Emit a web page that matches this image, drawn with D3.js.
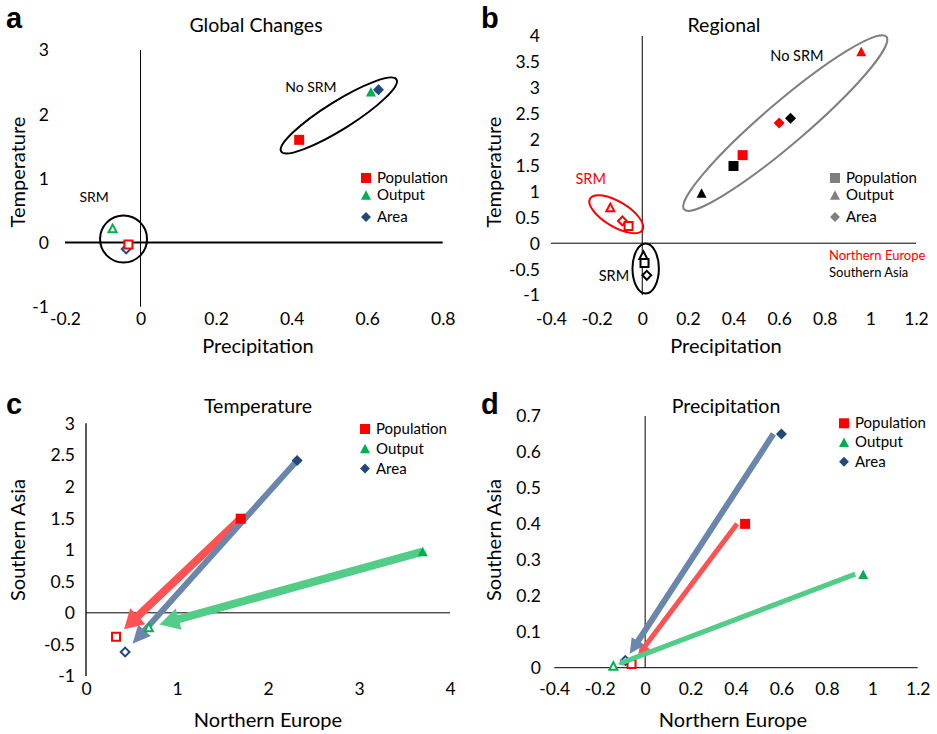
<!DOCTYPE html>
<html><head><meta charset="utf-8">
<script src="https://cdn.jsdelivr.net/npm/d3@7"></script>
<style>
body{margin:0;background:#fff}
svg{display:block}
text{font-family:Lato,"Open Sans",sans-serif;fill:#000}
</style>
</head><body>
<svg id="chart" width="937" height="734"></svg>
<script>
// ---------- DATA ----------
const indicators = ["Population", "Output", "Area"];
const shapes = ["square", "triangle", "diamond"];
const indicatorColors = ["#FF0000", "#00B050", "#1F497D"];
const arrowColors = ["#FF5252", "#52CD88", "#6A86AD"];

// Panel a: global changes (precipitation, temperature)
const globalPrecNoSrm = [0.42, 0.61, 0.63];
const globalTempNoSrm = [1.60, 2.35, 2.38];
const globalPrecSrm = [-0.032, -0.074, -0.038];
const globalTempSrm = [-0.03, 0.22, -0.10];

// Regional changes: Northern Europe (NE) and Southern Asia (SA)
const neTempNoSrm = [1.70, 3.70, 2.32];
const saTempNoSrm = [1.49, 0.97, 2.41];
const nePrecNoSrm = [0.44, 0.96, 0.60];
const saPrecNoSrm = [0.40, 0.26, 0.65];
const neTempSrm = [0.33, 0.69, 0.43];
const saTempSrm = [-0.38, -0.23, -0.62];
const nePrecSrm = [-0.06, -0.14, -0.087];
const saPrecSrm = [0.01, 0.005, 0.02];

const regionNames = ["Northern Europe", "Southern Asia"];
const regionColors = ["#FF0000", "#000000"];

// Tick values
const xTicksA = [-0.2, 0, 0.2, 0.4, 0.6, 0.8];
const yTicksA = [-1, 0, 1, 2, 3];
const xTicksB = [-0.4, -0.2, 0, 0.2, 0.4, 0.6, 0.8, 1, 1.2];
const yTicksB = [-1, -0.5, 0, 0.5, 1, 1.5, 2, 2.5, 3, 3.5, 4];
const xTicksC = [0, 1, 2, 3, 4];
const yTicksC = [-1, -0.5, 0, 0.5, 1, 1.5, 2, 2.5, 3];
const xTicksD = [-0.4, -0.2, 0, 0.2, 0.4, 0.6, 0.8, 1, 1.2];
const yTicksD = [0, 0.1, 0.2, 0.3, 0.4, 0.5, 0.6, 0.7];

// Cluster annotations (centre in data units)
const clustersA = [
  {label: "No SRM", cx: 0.525, cy: 1.98, lx: 0.451, ly: 2.42, color: "#000"},
  {label: "SRM", cx: -0.045, cy: 0.055, lx: -0.123, ly: 0.71, color: "#000"}
];
const clustersB = [
  {label: "No SRM", cx: 0.627, cy: 2.32, lx: 0.678, ly: 3.61, color: "#7F7F7F", tcolor: "#000"},
  {label: "SRM", cx: -0.114, cy: 0.56, lx: -0.226, ly: 1.24, color: "#FF0000", tcolor: "#FF0000"},
  {label: "SRM", cx: 0.015, cy: -0.49, lx: -0.124, ly: -0.64, color: "#000", tcolor: "#000"}
];

// ---------- HELPERS ----------
const svg = d3.select("#chart");
const FONT = 'Lato,"Open Sans",sans-serif';

function shapePath(type, s) {
  if (type === "square") return `M${-s/2},${-s/2}h${s}v${s}h${-s}Z`;
  if (type === "triangle") { const h = s * 0.95; return `M0,${-h/2}L${s/2},${h/2}L${-s/2},${h/2}Z`; }
  const r = s / 2 * 1.1; return `M0,${-r}L${r},0L0,${r}L${-r},0Z`;
}
function drawMarker(g, x, y, type, color, open, size) {
  g.append("path").attr("d", shapePath(type, open ? size - 2 : size))
    .attr("transform", `translate(${x},${y})`)
    .attr("fill", open ? "#fff" : color)
    .attr("stroke", open ? color : "none")
    .attr("stroke-width", open ? 2 : 0);
}
function arrowPath(x1, y1, x2, y2, w, hw, hl) {
  const L = Math.hypot(x2 - x1, y2 - y1), ux = (x2 - x1) / L, uy = (y2 - y1) / L;
  const px = -uy, py = ux, bx = x2 - ux * hl, by = y2 - uy * hl;
  const p = [[x1 + px*w/2, y1 + py*w/2], [bx + px*w/2, by + py*w/2], [bx + px*hw/2, by + py*hw/2], [x2, y2],
             [bx - px*hw/2, by - py*hw/2], [bx - px*w/2, by - py*w/2], [x1 - px*w/2, y1 - py*w/2]];
  return "M" + p.map(q => q.join(",")).join("L") + "Z";
}

function makePanel(cfg) {
  const g = svg.append("g");
  const x = d3.scaleLinear().domain(cfg.xDomain).range(cfg.xRange);
  const y = d3.scaleLinear().domain(cfg.yDomain).range(cfg.yRange);
  const ax = g.append("g").attr("transform", `translate(0,${cfg.yRange[0]})`)
    .call(d3.axisBottom(x).tickValues(cfg.xTicks).tickSize(0).tickFormat(d => String(d)));
  ax.select(".domain").remove();
  ax.selectAll("text").attr("y", cfg.xLabelOffset).attr("dy", null)
    .style("font-family", FONT).style("font-size", "17.5px").attr("fill", "#000");
  const ay = g.append("g").attr("transform", `translate(${cfg.xRange[0]},0)`)
    .call(d3.axisLeft(y).tickValues(cfg.yTicks).tickSize(0).tickPadding(cfg.yLabelPad).tickFormat(d => String(d)));
  ay.select(".domain").remove();
  ay.selectAll("text").attr("dy", "0.34em")
    .style("font-family", FONT).style("font-size", "17.5px").attr("fill", "#000");
  g.append("line").attr("x1", x(0)).attr("x2", x(0)).attr("y1", cfg.yRange[1]).attr("y2", cfg.yRange[0])
    .attr("stroke", "#000").attr("stroke-width", cfg.vWidth || 1);
  g.append("line").attr("x1", cfg.xRange[0]).attr("x2", cfg.xRange[1]).attr("y1", y(0)).attr("y2", y(0))
    .attr("stroke", "#000").attr("stroke-width", cfg.hWidth || 1);
  g.append("text").attr("x", cfg.title[1]).attr("y", cfg.title[2]).attr("text-anchor", "middle")
    .style("font-size", "19.5px").text(cfg.title[0]);
  g.append("text").attr("x", cfg.xTitle[1]).attr("y", cfg.xTitle[2]).attr("text-anchor", "middle")
    .style("font-size", "20px").text(cfg.xTitle[0]);
  g.append("text").attr("transform", `translate(${cfg.yTitle[1]},${cfg.yTitle[2]}) rotate(-90)`)
    .attr("text-anchor", "middle").attr("dy", "0.35em").style("font-size", "20px").text(cfg.yTitle[0]);
  g.append("text").attr("x", cfg.letter[1]).attr("y", cfg.letter[2])
    .style("font-family", "'Liberation Sans',Arial,sans-serif").style("font-weight", "bold")
    .style("font-size", "29px").text(cfg.letter[0]);
  return {g, x, y};
}

function legend(g, lx, ly, colors, spacing) {
  indicators.forEach((name, i) => {
    const yy = ly + spacing[i];
    drawMarker(g, lx, yy, shapes[i], colors[i], false, i === 2 ? 9 : 10);
    g.append("text").attr("x", lx + 11).attr("y", yy + 5).style("font-size", "15px").text(name);
  });
}

// ---------- PANEL A ----------
{
  const {g, x, y} = makePanel({
    xDomain: [-0.2, 0.8], yDomain: [-1, 3], xRange: [65, 442.7], yRange: [306.7, 50],
    xTicks: xTicksA, yTicks: yTicksA, xLabelOffset: 18.5, yLabelPad: 16, hWidth: 2,
    title: ["Global Changes", 256, 32], xTitle: ["Precipitation", 258, 353], yTitle: ["Temperature", 17.5, 172],
    letter: ["a", 6, 28]
  });
  const ell = [[68, 14, -32], [23.5, 23.5, 0]];
  clustersA.forEach((c, i) => {
    g.append("ellipse").attr("cx", 0).attr("cy", 0).attr("rx", ell[i][0]).attr("ry", ell[i][1])
      .attr("transform", `translate(${x(c.cx)},${y(c.cy)}) rotate(${ell[i][2]})`)
      .attr("fill", "none").attr("stroke", c.color).attr("stroke-width", 2);
    g.append("text").attr("x", x(c.lx)).attr("y", y(c.ly) + 5).attr("text-anchor", "middle")
      .style("font-size", "14px").text(c.label);
  });
  indicators.forEach((_, i) => {
    drawMarker(g, x(globalPrecNoSrm[i]), y(globalTempNoSrm[i]), shapes[i], indicatorColors[i], false, 10);
  });
  [1, 2, 0].forEach(i => {
    drawMarker(g, x(globalPrecSrm[i]), y(globalTempSrm[i]), shapes[i], indicatorColors[i], true, 10);
  });
  legend(g, 366, 178, indicatorColors, [0, 17, 39]);
}

// ---------- PANEL B ----------
{
  const {g, x, y} = makePanel({
    xDomain: [-0.4, 1.2], yDomain: [-1, 4], xRange: [551, 916], yRange: [295, 36],
    xTicks: xTicksB, yTicks: yTicksB, xLabelOffset: 30, yLabelPad: 11,
    title: ["Regional", 724, 32], xTitle: ["Precipitation", 726, 353], yTitle: ["Temperature", 493.5, 172],
    letter: ["b", 481, 28]
  });
  const ell = [[133, 21, -40.5], [30.5, 12.5, 31], [13.2, 25, 0]];
  clustersB.forEach((c, i) => {
    g.append("ellipse").attr("cx", 0).attr("cy", 0).attr("rx", ell[i][0]).attr("ry", ell[i][1])
      .attr("transform", `translate(${x(c.cx)},${y(c.cy)}) rotate(${ell[i][2]})`)
      .attr("fill", "none").attr("stroke", c.color).attr("stroke-width", 2);
    g.append("text").attr("x", x(c.lx)).attr("y", y(c.ly) + 5).attr("text-anchor", "middle")
      .style("fill", c.tcolor).style("font-size", "14.5px").text(c.label);
  });
  const regions = [
    {px: nePrecNoSrm, ty: neTempNoSrm, ps: nePrecSrm, ts: neTempSrm},
    {px: saPrecNoSrm, ty: saTempNoSrm, ps: saPrecSrm, ts: saTempSrm}
  ];
  regions.forEach((r, k) => {
    indicators.forEach((_, i) => {
      drawMarker(g, x(r.px[i]), y(r.ty[i]), shapes[i], regionColors[k], false, 10);
    });
    [1, 2, 0].forEach(i => {
      drawMarker(g, x(r.ps[i]), y(r.ts[i]), shapes[i], regionColors[k], true, 10);
    });
  });
  legend(g, 835, 178, ["#7F7F7F", "#7F7F7F", "#7F7F7F"], [0, 17, 39]);
  regionNames.forEach((n, k) => {
    g.append("text").attr("x", 829).attr("y", 260 + k * 17).style("fill", regionColors[k])
      .style("font-size", "13px").text(n);
  });
}

// ---------- PANEL C ----------
{
  const {g, x, y} = makePanel({
    xDomain: [0, 4], yDomain: [-1, 3], xRange: [86, 450], yRange: [676, 423.3],
    xTicks: xTicksC, yTicks: yTicksC, xLabelOffset: 19, yLabelPad: 11, vWidth: 1.3,
    title: ["Temperature", 258, 413], xTitle: ["Northern Europe", 268, 727], yTitle: ["Southern Asia", 17.5, 540],
    letter: ["c", 6, 414]
  });
  const aw = [[8, 22, 19], [8, 22, 20], [6, 17, 18]];
  [0, 2, 1].forEach(i => {
    const x1 = x(neTempNoSrm[i]), y1 = y(saTempNoSrm[i]);
    const tx = x(neTempSrm[i]), ty = y(saTempSrm[i]);
    const L = Math.hypot(tx - x1, ty - y1), trim = 11;
    const x2 = tx - (tx - x1) / L * trim, y2 = ty - (ty - y1) / L * trim;
    g.append("path").attr("d", arrowPath(x1, y1, x2, y2, aw[i][0], aw[i][1], aw[i][2])).attr("fill", arrowColors[i]);
  });
  indicators.forEach((_, i) => {
    drawMarker(g, x(neTempNoSrm[i]), y(saTempNoSrm[i]), shapes[i], indicatorColors[i], false, 10);
    drawMarker(g, x(neTempSrm[i]), y(saTempSrm[i]), shapes[i], indicatorColors[i], true, 10);
  });
  legend(g, 365, 429, indicatorColors, [0, 19.5, 39.5]);
}

// ---------- PANEL D ----------
{
  const {g, x, y} = makePanel({
    xDomain: [-0.4, 1.2], yDomain: [0, 0.7], xRange: [554.3, 917.7], yRange: [667.7, 416],
    xTicks: xTicksD, yTicks: yTicksD, xLabelOffset: 27.5, yLabelPad: 13.5,
    title: ["Precipitation", 726, 413], xTitle: ["Northern Europe", 733, 727], yTitle: ["Southern Asia", 493.5, 540],
    letter: ["d", 481, 414]
  });
  indicators.forEach((_, i) => {
    drawMarker(g, x(nePrecNoSrm[i]), y(saPrecNoSrm[i]), shapes[i], indicatorColors[i], false, 10);
    drawMarker(g, x(nePrecSrm[i]), y(saPrecSrm[i]), shapes[i], indicatorColors[i], true, 10);
  });
  const aw = [[5, 12, 12], [5, 7, 5], [6, 15, 15]];
  const trims = [11, 5, 8];
  [0, 2, 1].forEach(i => {
    const x1 = x(nePrecNoSrm[i]) - 8, y1 = y(saPrecNoSrm[i]);
    const tx = x(nePrecSrm[i]), ty = y(saPrecSrm[i]);
    const L = Math.hypot(tx - x1, ty - y1);
    const x2 = tx - (tx - x1) / L * trims[i], y2 = ty - (ty - y1) / L * trims[i];
    g.append("path").attr("d", arrowPath(x1, y1, x2, y2, aw[i][0], aw[i][1], aw[i][2])).attr("fill", arrowColors[i]);
  });
  legend(g, 844, 423.3, indicatorColors, [0, 19, 38.5]);
}
</script>
</body></html>
